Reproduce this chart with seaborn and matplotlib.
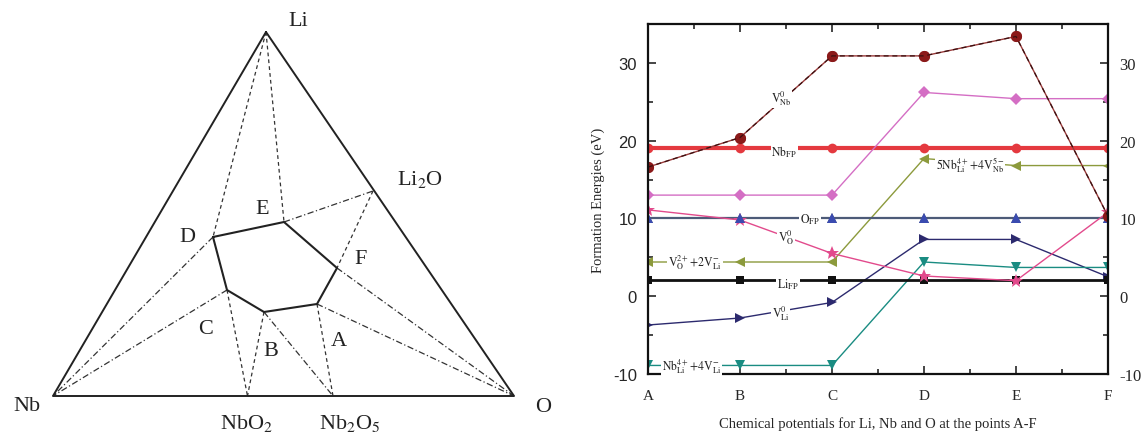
import matplotlib
matplotlib.use("Agg")
import matplotlib.pyplot as plt
from matplotlib.ticker import MultipleLocator
import seaborn as sns

# Ternary diagram (schematic, in picture coordinates of the left panel)
tri_names = ["Li", "Nb", "O"]
tri_x = [266, 53, 514]
tri_y = [33, 397, 397]

phase_names = ["Li2O", "NbO2", "Nb2O5"]
phase_x = [373, 247.5, 333]
phase_y = [192, 397, 397]

hex_names = ["D", "E", "F", "A", "B", "C"]
hex_x = [213, 284, 337, 317, 264, 227]
hex_y = [238, 223, 269, 305, 313, 291]

# (from, to, style)
tie_lines = [
    ("Li", "D", "dash"), ("Li", "E", "dash"), ("E", "Li2O", "dashdot"),
    ("Li2O", "F", "dash"), ("F", "O", "dashdot"), ("A", "O", "dashdot"),
    ("A", "Nb2O5", "dash"), ("B", "Nb2O5", "dashdot"), ("B", "NbO2", "dash"),
    ("C", "NbO2", "dash"), ("C", "Nb", "dashdot"), ("D", "Nb", "dashdot"),
]

# Formation energies at the points A-F
points = ["A", "B", "C", "D", "E", "F"]
v_nb = [16.6, 20.4, 30.9, 30.9, 33.4, 10.3]
nb_fp = [19.1, 19.1, 19.1, 19.1, 19.1, 19.1]
pink_diamond = [13.0, 13.0, 13.0, 26.2, 25.4, 25.4]
complex_olive = [4.4, 4.4, 4.4, 17.7, 16.8, 16.8]
o_fp = [10.0, 10.0, 10.0, 10.0, 10.0, 10.0]
v_o = [11.1, 9.8, 5.5, 2.6, 2.0, 10.8]
li_fp = [2.1, 2.1, 2.1, 2.1, 2.1, 2.1]
v_li = [-3.7, -2.8, -0.8, 7.3, 7.3, 2.5]
nb_li_complex = [-8.9, -8.9, -8.9, 4.4, 3.7, 3.7]

sns.set_style("ticks")
plt.rcParams["mathtext.fontset"] = "stix"
plt.rcParams["axes.unicode_minus"] = False
serif = ["Liberation Serif", "DejaVu Serif"]

fig = plt.figure(figsize=(11.48, 4.39), dpi=100)

# ---- left: ternary diagram
ax0 = fig.add_axes([0, 0, 560 / 1148, 1])
ax0.set_xlim(0, 560)
ax0.set_ylim(439, 0)
ax0.axis("off")

pos = {}
for n, x, y in zip(tri_names + phase_names + hex_names,
                   tri_x + phase_x + hex_x, tri_y + phase_y + hex_y):
    pos[n] = (x, y)

styles = {"dash": (0, (3, 2.5)), "dashdot": (0, (5, 2, 1, 2))}
for a, b, s in tie_lines:
    ax0.plot([pos[a][0], pos[b][0]], [pos[a][1], pos[b][1]],
             color="#333333", lw=0.9, linestyle=styles[s])

ax0.plot(tri_x + tri_x[:1], tri_y + tri_y[:1], color="#222222", lw=1.4)
ax0.plot(hex_x + hex_x[:1], hex_y + hex_y[:1], color="#222222", lw=1.5)

big = dict(fontsize=16, family=serif, ha="center", va="center", color="#222222")
ax0.text(298, 22, "Li", **big)
ax0.text(420, 180, r"Li$_2$O", **big)
ax0.text(27, 407, "Nb", **big)
ax0.text(543, 408, "O", **big)
ax0.text(247, 424, r"NbO$_2$", **big)
ax0.text(350, 424, r"Nb$_2$O$_5$", **big)
ax0.text(262, 210, "E", **big)
ax0.text(187, 238, "D", **big)
ax0.text(361, 260, "F", **big)
ax0.text(339, 342, "A", **big)
ax0.text(271, 352, "B", **big)
ax0.text(206, 330, "C", **big)

# ---- right: formation energies
ax = fig.add_axes([648 / 1148, 64 / 439, 460 / 1148, 350 / 439])
xs = list(range(len(points)))

series = [
    (nb_fp, "#e4393f", "o", 3.0, 7),
    (pink_diamond, "#d46ec4", "D", 1.0, 6),
    (complex_olive, "#8c9a3c", "<", 1.0, 7),
    (o_fp, "#4d5b78", "^", 1.6, 7),
    (v_li, "#2c2a6e", ">", 1.0, 7),
    (nb_li_complex, "#1a8c82", "v", 1.0, 7),
    (li_fp, "#111111", "s", 2.0, 6),
    (v_o, "#e24a8c", "*", 1.0, 10),
]
for vals, col, mk, lw, ms in series:
    sns.lineplot(x=xs, y=vals, ax=ax, color=col, lw=lw, marker=mk,
                 markersize=ms, markeredgewidth=0, sort=False)

# O_FP markers in brighter blue
sns.lineplot(x=xs, y=o_fp, ax=ax, color="#3a4bb0", lw=0, marker="^",
             markersize=7, markeredgewidth=0, sort=False)
# V_Nb: dark red with dashed overlay
sns.lineplot(x=xs, y=v_nb, ax=ax, color="#9a3a3a", lw=1.0, marker="o",
             markersize=8, markeredgewidth=0, sort=False)
sns.lineplot(x=xs, y=v_nb, ax=ax, color="#8b1a1a", lw=0, marker="o",
             markersize=8, markeredgewidth=0, sort=False)
ax.plot(xs, v_nb, color="#3a1010", lw=0.9, linestyle=(0, (4, 3)))

ax.set_xlim(0, 5)
ax.set_ylim(-10, 35)
ax.set_xticks(xs)
ax.set_xticklabels(points, family=serif, fontsize=11)
ax.xaxis.set_minor_locator(MultipleLocator(0.5))
ax.set_yticks([-10, 0, 10, 20, 30])
ax.yaxis.set_minor_locator(MultipleLocator(5))
ax.tick_params(which="both", direction="in", top=True, right=True,
               labelright=True, width=1.2)
ax.tick_params(which="major", length=6)
ax.tick_params(which="minor", length=3.5)
ax.tick_params(axis="x", pad=11)
ax.tick_params(axis="y", pad=8)
for t in ax.yaxis.get_major_ticks():
    t.label1.set_fontfamily(["Liberation Sans", "DejaVu Sans"])
    t.label1.set_fontsize(12)
    t.label2.set_fontfamily(serif)
    t.label2.set_fontsize(12)
for sp in ax.spines.values():
    sp.set_linewidth(1.6)
    sp.set_color("#111111")

ax.set_xlabel("Chemical potentials for Li, Nb and O at the points A-F",
              family=serif, fontsize=10.5, labelpad=10)
ax.set_ylabel("Formation Energies (eV)", family=serif, fontsize=10.5,
              labelpad=6)

bb = dict(fc="white", ec="none", pad=0.6)
lab = dict(fontsize=8.5, ha="center", va="center", bbox=bb, color="#222222")
ax.text(1.45, 25.5, r"$\mathrm{V}_{\mathrm{Nb}}^{0}$", **lab)
ax.text(1.48, 18.6, r"$\mathrm{Nb}_{\mathrm{FP}}$", **lab)
ax.text(3.5, 17.0, r"$5\mathrm{Nb}_{\mathrm{Li}}^{4+}\!+\!4\mathrm{V}_{\mathrm{Nb}}^{5-}$", **lab)
ax.text(1.76, 10.0, r"$\mathrm{O}_{\mathrm{FP}}$", **lab)
ax.text(1.5, 7.6, r"$\mathrm{V}_{\mathrm{O}}^{0}$", **lab)
ax.text(0.51, 4.4, r"$\mathrm{V}_{\mathrm{O}}^{2+}\!+\!2\mathrm{V}_{\mathrm{Li}}^{-}$", **lab)
ax.text(1.52, 1.6, r"$\mathrm{Li}_{\mathrm{FP}}$", **lab)
ax.text(1.44, -2.1, r"$\mathrm{V}_{\mathrm{Li}}^{0}$", **lab)
ax.text(0.47, -8.9, r"$\mathrm{Nb}_{\mathrm{Li}}^{4+}\!+\!4\mathrm{V}_{\mathrm{Li}}^{-}$", **lab)

fig.savefig("out.png", dpi=100)
